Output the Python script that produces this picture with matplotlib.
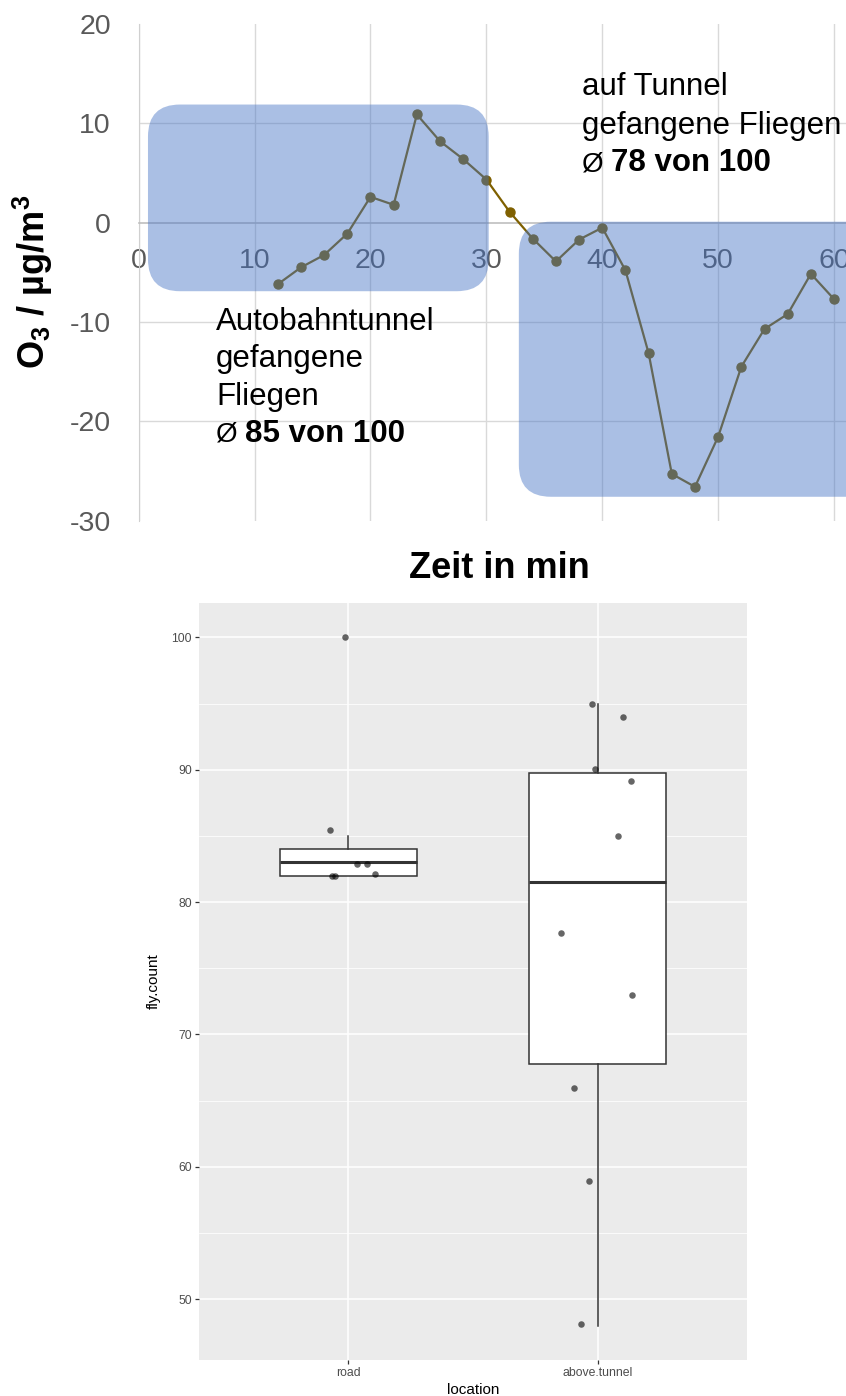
import matplotlib
matplotlib.use('Agg')
import matplotlib.pyplot as plt
import numpy as np
from matplotlib.patches import FancyBboxPatch

# O3-Differenz über die Messzeit (alle 2 min)
zeit_min = [12, 14, 16, 18, 20, 22, 24, 26, 28, 30, 32, 34, 36,
            38, 40, 42, 44, 46, 48, 50, 52, 54, 56, 58, 60]
o3_diff = [-6.2, -4.5, -3.25, -1.1, 2.6, 1.8, 10.9, 8.2, 6.4, 4.35, 1.1, -1.6, -3.9,
           -1.7, -0.5, -4.8, -13.15, -25.3, -26.6, -21.55, -14.5, -10.7, -9.2, -5.15, -7.7]

# Zeitfenster der beiden Standorte: (t0, t1, o3_min, o3_max)
fenster_autobahn = (0.8, 30.2, -6.9, 11.9)
fenster_oben = (32.8, 64.0, -27.6, 0.1)

# Fliegen-Zählung je Standort
locations = ['road', 'above.tunnel']
road_count = [100, 85, 83, 83, 82, 82, 82]
tunnel_count = [95, 94, 90, 89, 85, 78, 73, 66, 59, 48]
# jitter-Versatz der Punkte (x in Kategorie-Einheiten, y in Zählungen)
road_dx = [-0.015, -0.073, 0.034, 0.073, -0.067, -0.055, 0.106]
road_dy = [0.0, 0.47, -0.1, -0.1, -0.06, -0.06, 0.1]
tunnel_dx = [-0.023, 0.101, -0.012, 0.135, 0.084, -0.146, 0.138, -0.096, -0.034, -0.068]
tunnel_dy = [-0.06, 0.0, 0.03, 0.15, -0.03, -0.3, -0.03, -0.08, -0.1, 0.1]

W, H, DPI = 846, 1396, 100
plt.rcParams['font.family'] = ['Liberation Sans', 'DejaVu Sans']
plt.rcParams['axes.unicode_minus'] = False
plt.rcParams['mathtext.fontset'] = 'custom'
plt.rcParams['mathtext.rm'] = 'Liberation Sans'
plt.rcParams['mathtext.bf'] = 'Liberation Sans:bold'

fig = plt.figure(figsize=(W / DPI, H / DPI), dpi=DPI, facecolor='white')


def fx(px):
    return px / W


def fy(px):
    return 1 - px / H


# ---------- oben: O3-Verlauf ----------
top_l, top_t, top_b = 138.7, 24.1, 520.6
ax = fig.add_axes([fx(top_l), fy(top_b), fx(W - top_l), (top_b - top_t) / H])
ax.set_xlim(0, 61.03)
ax.set_ylim(-30, 20)
ax.set_xticks(range(0, 61, 10))
ax.set_yticks(range(-30, 21, 10))
ax.set_axisbelow(True)
ax.xaxis.grid(True, color='#d9d9d9', lw=1.0)
for yv in (-20, -10, 10):
    ax.axhline(yv, color='#d9d9d9', lw=1.0, zorder=0.5)
for s in ('top', 'right'):
    ax.spines[s].set_visible(False)
ax.spines['bottom'].set_position(('data', 0))
ax.spines['bottom'].set_color('#bfbfbf')
ax.spines['bottom'].set_linewidth(1.2)
ax.spines['left'].set_color('#d0d0d0')
ax.tick_params(length=0, labelsize=20.5, colors='#595959')
ax.tick_params(axis='x', pad=18)
ax.tick_params(axis='y', pad=20)

ax.plot(zeit_min, o3_diff, color='#7F6000', lw=1.6, marker='o', ms=6.5, zorder=3)

# abgerundete Felder gleich breit in x und y (Pixel-Verhältnis der Achsen)
px_per_x = (W - top_l) / 61.03
px_per_y = (top_b - top_t) / 50
aspect = px_per_x / px_per_y
for t0, t1, v0, v1 in (fenster_autobahn, fenster_oben):
    ax.add_patch(FancyBboxPatch((t0, v0), t1 - t0, v1 - v0,
                                boxstyle=f'round,pad=0,rounding_size={32 / px_per_x:.3f}',
                                mutation_aspect=aspect, fc='#4472C4', ec='none',
                                alpha=0.45, zorder=5))

fig.text(fx(33), fy(282), r'$\mathbf{O}_\mathbf{3}$ / µg/m$^\mathbf{3}$', rotation=90,
         ha='center', va='center', fontsize=26, fontweight='bold')
fig.text(fx(499), fy(578), 'Zeit in min', ha='center', va='baseline',
         fontsize=26, fontweight='bold')

note = dict(fontsize=22.5, va='baseline', color='black')
fig.text(fx(582), fy(95), 'auf Tunnel', **note)
fig.text(fx(582), fy(134), 'gefangene Fliegen', **note)
fig.text(fx(582), fy(171), 'Ø', fontsize=20, va='baseline', color='black')
fig.text(fx(611), fy(171), f'{np.mean(tunnel_count):.0f} von 100', fontweight='bold', **note)

fig.text(fx(216), fy(330), 'Autobahntunnel', **note)
fig.text(fx(216), fy(367), 'gefangene', **note)
fig.text(fx(216), fy(405), 'Fliegen', **note)
fig.text(fx(216), fy(442), 'Ø', fontsize=20, va='baseline', color='black')
fig.text(fx(245), fy(442), f'{np.mean(road_count):.0f} von 100', fontweight='bold', **note)

# ---------- unten: Boxplot fly.count ----------
ax2 = fig.add_axes([fx(199), fy(1360), fx(548), 757 / H])
ax2.set_facecolor('#EBEBEB')

ax2.boxplot([road_count, tunnel_count], positions=[1, 2], widths=0.55, whis=1.5,
            showcaps=False, showfliers=False, patch_artist=True, zorder=2,
            boxprops=dict(facecolor='white', edgecolor='#333333', lw=1.1),
            medianprops=dict(color='#333333', lw=2.2),
            whiskerprops=dict(color='#333333', lw=1.1))

ax2.scatter(1 + np.array(road_dx), np.array(road_count) + road_dy,
            s=22, c='black', alpha=0.6, lw=0, zorder=3)
ax2.scatter(2 + np.array(tunnel_dx), np.array(tunnel_count) + tunnel_dy,
            s=22, c='black', alpha=0.6, lw=0, zorder=3)

ax2.set_xlim(0.4, 2.6)
ax2.set_ylim(45.4, 102.6)
ax2.set_yticks(range(50, 101, 10))
ax2.set_yticks(range(55, 100, 10), minor=True)
ax2.set_xticks([1, 2])
ax2.set_xticklabels(locations)
ax2.set_axisbelow(True)
ax2.grid(True, which='major', color='white', lw=1.1)
ax2.grid(True, which='minor', axis='y', color='white', lw=0.55)
for s in ax2.spines.values():
    s.set_visible(False)
ax2.tick_params(which='major', length=3, width=0.9, color='#333333',
                labelsize=8.8, labelcolor='#4D4D4D', pad=2)
ax2.tick_params(which='minor', length=0)

ax2.set_xlabel('location', fontsize=11, labelpad=3)
ax2.set_ylabel('fly.count', fontsize=11, labelpad=8)

fig.savefig('out.png', dpi=DPI, facecolor='white')
